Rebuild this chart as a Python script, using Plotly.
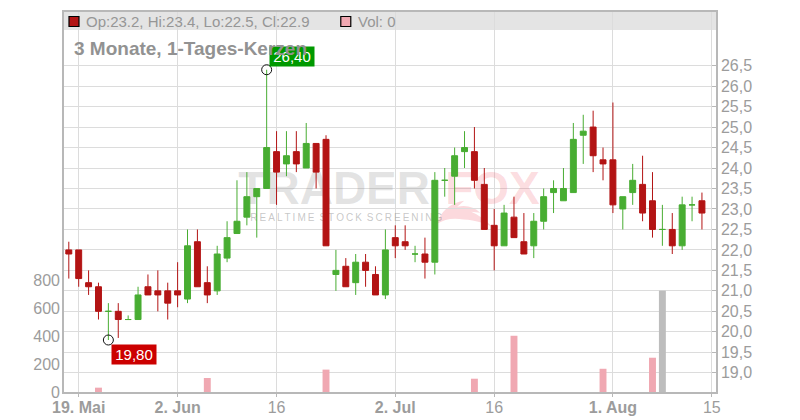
import plotly.graph_objects as go

# daily candles
opens = [22.0, 22.0, 21.2, 21.1, 20.5, 20.5, 20.3, 20.3, 21.1, 21.0, 21.0, 21.0, 20.8,
         22.2, 21.2, 21.0, 21.8, 22.4, 22.8, 23.3, 23.5, 24.4, 24.1, 24.4, 24.0, 24.6,
         24.7, 21.4, 21.6, 21.2, 21.7, 21.4, 20.9, 22.3, 22.2, 21.9, 21.9, 21.7, 23.7,
         23.8, 24.4, 24.4, 23.6, 22.6, 22.1, 22.8, 22.2, 22.1, 22.7, 23.4, 23.2, 23.4,
         24.8, 25.0, 24.2, 24.2, 23.0, 23.4, 23.6, 23.2, 22.5, 22.5, 22.1, 23.1, 23.2]
highs = [22.2, 22.0, 21.5, 21.2, 20.7, 20.7, 20.4, 21.1, 21.4, 21.5, 21.2, 21.7, 22.5,
         22.5, 21.6, 22.1, 22.7, 23.7, 23.9, 23.5, 26.4, 24.9, 24.9, 24.9, 25.1, 24.6,
         24.8, 22.0, 21.8, 21.9, 21.9, 21.6, 22.5, 22.6, 22.6, 22.1, 22.3, 23.9, 24.0,
         24.5, 24.9, 25.0, 24.0, 23.0, 23.1, 23.3, 22.9, 22.9, 23.5, 23.7, 24.0, 25.1,
         25.3, 25.4, 24.5, 25.6, 23.3, 24.1, 24.3, 23.9, 23.1, 22.9, 23.3, 23.3, 23.4]
lows = [21.3, 21.1, 20.9, 20.3, 19.8, 19.85, 20.3, 20.3, 20.9, 20.5, 20.3, 20.6, 20.7,
        21.1, 20.7, 20.9, 21.7, 22.4, 22.6, 22.3, 23.5, 23.1, 23.8, 23.9, 24.0, 23.5,
        22.1, 21.0, 21.1, 20.9, 21.1, 20.9, 20.8, 21.8, 22.0, 21.7, 21.3, 21.4, 23.3,
        23.1, 24.0, 23.5, 22.5, 21.5, 22.1, 22.3, 21.9, 21.8, 22.5, 22.9, 23.2, 23.4,
        24.1, 23.9, 23.7, 22.9, 22.5, 23.1, 22.7, 22.3, 22.1, 21.9, 22.0, 22.7, 22.5]
closes = [21.9, 21.3, 21.1, 20.5, 20.5, 20.3, 20.3, 20.9, 20.9, 20.9, 20.7, 20.9, 22.1,
          21.1, 20.9, 21.9, 22.3, 22.7, 23.3, 23.5, 24.5, 23.9, 24.3, 24.1, 24.6, 23.9,
          22.1, 21.5, 21.1, 21.7, 21.5, 20.9, 22.0, 22.1, 22.1, 21.9, 21.7, 23.7, 23.7,
          24.3, 24.5, 23.7, 22.5, 22.1, 22.9, 22.3, 21.9, 22.7, 23.3, 23.5, 23.5, 24.7,
          24.9, 24.3, 24.1, 23.1, 23.3, 23.7, 22.9, 22.5, 22.5, 22.1, 23.1, 23.1, 22.9]
volumes = [0, 0, 0, 31, 0, 0, 0, 0, 0, 0, 0, 0, 0, 0, 100, 0, 0, 0, 0, 0, 0, 0, 0, 0, 0, 0,
           160, 0, 0, 0, 0, 0, 0, 0, 0, 0, 0, 0, 0, 0, 0, 95, 0, 0, 0, 402, 0, 0, 0, 0, 0, 0,
           0, 0, 166, 0, 0, 0, 0, 245, 724, 0, 0, 0, 0]

tick_pos = [1, 11, 21, 33, 43, 55, 65]
tick_labels = ["<b>19. Mai</b>", "<b>2. Jun</b>", "16", "<b>2. Jul</b>", "16", "<b>1. Aug</b>", "15"]
vol_ticks = [0, 200, 400, 600, 800]
price_ticks = [19.0, 19.5, 20.0, 20.5, 21.0, 21.5, 22.0, 22.5, 23.0, 23.5, 24.0, 24.5, 25.0, 25.5, 26.0, 26.5]

high_label = "26,40"
low_label = "19,80"

RED = "#b31414"
GREEN = "#48ad32"
PINK = "#f0a8b2"
GREY_BAR = "#bdbdbd"
GRID = "#dcdcdc"
AXIS = "#b8b8b8"
TEXT = "#9c9c9c"
FONT = "Liberation Sans"

index = list(range(len(opens)))
up = [i for i in index if closes[i] >= opens[i]]
down = [i for i in index if closes[i] < opens[i]]


def candles(idx, color):
    side = dict(line=dict(color=color, width=1), fillcolor=color)
    return go.Candlestick(
        x=idx,
        open=[opens[i] for i in idx],
        high=[highs[i] for i in idx],
        low=[lows[i] for i in idx],
        close=[closes[i] for i in idx],
        increasing=side,
        decreasing=side,
        whiskerwidth=0,
        xaxis="x2",
        yaxis="y2",
        showlegend=False,
    )


def watermark(x, y, text, size, color):
    return go.Scatter(
        x=[x], y=[y], text=[text], mode="text", textposition="middle right",
        textfont=dict(family=FONT, size=size, color=color),
        hoverinfo="skip", showlegend=False,
    )


fig = go.Figure()

# base plot in page pixels, only there so the watermark sits behind the candles
fig.add_trace(watermark(238, 192.5, "<b>TRADER</b>", 46, "rgba(130,130,130,0.22)"))
fig.add_trace(watermark(445, 192.5, "<b>FOX</b>", 46, "rgba(240,80,100,0.2)"))
fig.add_trace(watermark(250, 219, "R\u2009E\u2009A\u2009L\u2009T\u2009I\u2009M\u2009E\u2002S\u2009T\u2009O\u2009C\u2009K\u2002"
                                  "S\u2009C\u2009R\u2009E\u2009E\u2009N\u2009I\u2009N\u2009G",
                        10, "rgba(130,130,130,0.45)"))

bar_colors = [GREY_BAR if closes[i] >= opens[i] else PINK for i in index]
fig.add_trace(go.Bar(x=index, y=volumes, marker=dict(color=bar_colors, line_width=0), width=0.7,
                     xaxis="x2", yaxis="y3", showlegend=False))

fig.add_trace(candles(down, RED))
fig.add_trace(candles(up, GREEN))

hi = highs.index(max(highs))
lo = lows.index(min(lows))
fig.add_trace(go.Scatter(
    x=[hi, lo], y=[highs[hi], lows[lo]], mode="markers",
    marker=dict(symbol="circle-open", size=10, color="#111111", line=dict(width=1, color="#111111")),
    xaxis="x2", yaxis="y2", showlegend=False,
))

fig.update_layout(
    width=800,
    height=420,
    margin=dict(l=63.5, r=84, t=12, b=27.7, pad=0),
    paper_bgcolor="white",
    plot_bgcolor="white",
    separators=",.",
    boxmode="overlay",
    boxgap=0.4,
    boxgroupgap=0,
    showlegend=False,
    font=dict(family=FONT, size=16, color=TEXT),
    xaxis=dict(range=[63.5, 716], visible=False, fixedrange=True, automargin=False),
    yaxis=dict(range=[392.3, 12], visible=False, fixedrange=True, automargin=False),
    xaxis2=dict(
        overlaying="x", anchor="y2", side="bottom", range=[-0.485, 65.42], automargin=False,
        tickvals=tick_pos, ticktext=tick_labels, showgrid=True, gridcolor=GRID, gridwidth=1.3,
        zeroline=False, ticks="outside", ticklen=3, tickcolor=AXIS, ticklabelstandoff=-3,
        showline=True, linecolor=AXIS, linewidth=1.5, mirror=True,
        rangeslider=dict(visible=False), tickfont=dict(size=16, color=TEXT),
    ),
    yaxis2=dict(
        overlaying="y", anchor="x2", side="right", range=[18.53, 27.81], automargin=False,
        tickvals=price_ticks, tickformat=".1f", showgrid=True, gridcolor=GRID, gridwidth=1.3,
        zeroline=False, ticks="inside", ticklen=4, tickcolor=AXIS, ticklabelstandoff=0,
        showline=True, linecolor=AXIS, linewidth=1.5, mirror=True,
        tickfont=dict(size=16, color=TEXT),
    ),
    yaxis3=dict(
        overlaying="y", anchor="x2", side="left", range=[0, 2716], automargin=False,
        tickvals=vol_ticks, showgrid=False, zeroline=False, showline=False,
        ticks="", ticklabelstandoff=3, tickfont=dict(size=16, color=TEXT),
    ),
    shapes=[
        dict(type="rect", xref="x", yref="y", x0=63.5, x1=716, y0=12, y1=30,
             fillcolor="#e4e4e4", line_width=0, layer="below"),
        dict(type="path", xref="x", yref="y", layer="below", fillcolor="#fcd9dd", line_width=0,
             path="M437 224 C440 212,450 203,464 201 L457 207 C466 205,474 207,480 213 L471 212 "
                  "C478 215,485 220,492 227 C478 220,466 220,455 219 C448 219,442 221,437 224 Z"),
        dict(type="rect", xref="x", yref="y", x0=68.5, x1=78.5, y0=16.5, y1=26.5,
             fillcolor=RED, line=dict(color="black", width=1.2), layer="above"),
        dict(type="rect", xref="x", yref="y", x0=340.5, x1=350.5, y0=16.5, y1=26.5,
             fillcolor=PINK, line=dict(color="black", width=1.2), layer="above"),
    ],
    annotations=[
        dict(text="Op:23.2, Hi:23.4, Lo:22.5, Cl:22.9", xref="x", yref="y", x=84, y=21.5,
             xanchor="left", showarrow=False, font=dict(size=15, color="#969696")),
        dict(text="Vol: 0", xref="x", yref="y", x=356, y=21.5,
             xanchor="left", showarrow=False, font=dict(size=15, color="#969696")),
        dict(text=high_label, xref="x2", yref="y2", x=hi, y=highs[hi], xanchor="left", yanchor="middle",
             xshift=2.4, yshift=13, showarrow=False, bgcolor="#009900", width=42, height=17,
             font=dict(size=15, color="white")),
        dict(text=low_label, xref="x2", yref="y2", x=lo, y=lows[lo], xanchor="left", yanchor="middle",
             xshift=2.7, yshift=-14, showarrow=False, bgcolor="#cc0000", width=42, height=17,
             font=dict(size=15, color="white")),
        # title goes last, in the original it runs over the green label
        dict(text="<b>3 Monate, 1-Tages-Kerzen</b>", xref="x", yref="y", x=72, y=48.5,
             xanchor="left", showarrow=False, font=dict(size=19, color="#929292")),
    ],
)

# the page's default body margin would push the fixed-size chart 8px off
fig.write_html("out.html", config=dict(displayModeBar=False),
               post_script="document.body.style.margin='0';")
